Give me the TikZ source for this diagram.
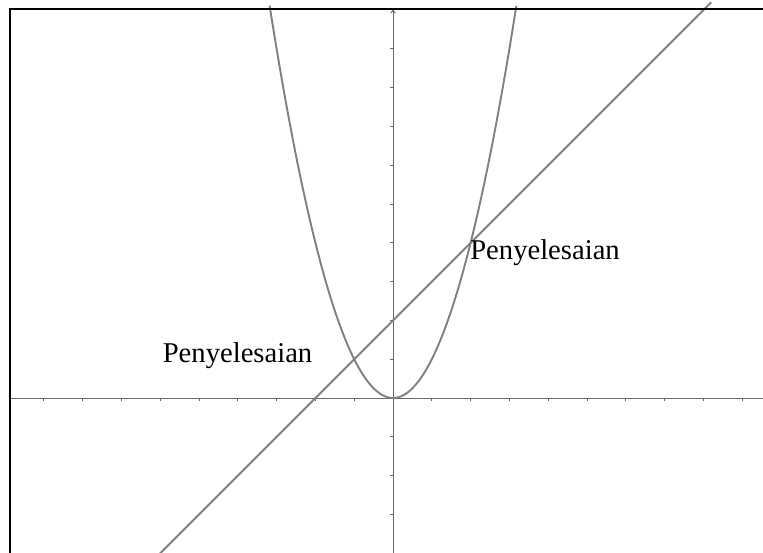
\documentclass[tikz,border=0pt]{standalone}
\usepackage{fontspec}
\setmainfont{Liberation Serif}
\usepackage{tikz}
\usetikzlibrary{positioning,arrows.meta}
\definecolor{curve}{RGB}{128,128,128}
\definecolor{axis}{RGB}{105,105,105}
\begin{document}
\begin{tikzpicture}[
		axisline/.style={axis, line width=0.7pt},
		tick/.style={axis, line width=0.5pt},
		graph/.style={curve, line width=1.4pt},
		sol/.style={anchor=base west, inner sep=0pt, font=\fontsize{21}{25}\selectfont}]
		\useasboundingbox (-10.129,-3.969) rectangle (9.536,10.258);
		\clip (-10.129,-3.969) rectangle (9.536,10.258);
		% axes and ticks
		\draw[axisline] (-9.87,0) -- (9.6,0);
		\draw[axisline, -{To[length=3pt,width=4pt]}] (0,-4) -- (0,10.02);
		\foreach \x in {-9,...,9}
			\draw[tick] (\x,0) -- (\x,-0.08);
		\foreach \y in {-3,...,9}
			\draw[tick] (0,\y) -- (-0.08,\y);
		% parabola and line
		\draw[graph] plot[domain=-3.18:3.18, samples=120, smooth] (\x,{\x*\x});
		\draw[graph] (-6.1,-4.1) -- (8.2,10.2);
		% labels
		\node[sol] (solA) at (-5.94,0.92) {Penyelesaian};
		\node[sol] (solB) at (1.985,3.557) {Penyelesaian};
		% frame
		\draw[black, line width=1.5pt] (-9.871,-4.2) -- (-9.871,10.026) -- (9.8,10.026);
	\end{tikzpicture}
\end{document}
